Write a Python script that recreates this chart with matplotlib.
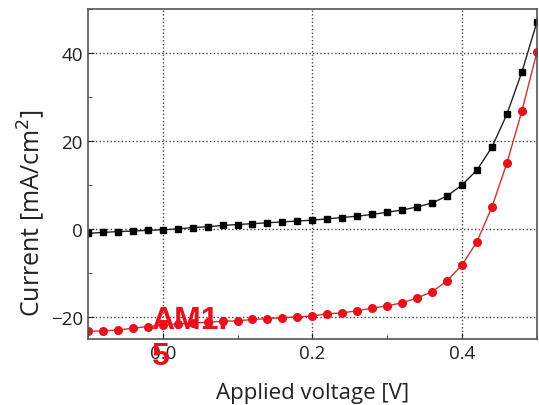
import matplotlib.pyplot as plt
from matplotlib.ticker import MultipleLocator

plt.rcParams['font.family'] = ['Open Sans', 'DejaVu Sans']

# Applied voltage [V], 0.02 V steps
voltage = [-0.10, -0.08, -0.06, -0.04, -0.02, 0.00, 0.02, 0.04, 0.06, 0.08,
           0.10, 0.12, 0.14, 0.16, 0.18, 0.20, 0.22, 0.24, 0.26, 0.28,
           0.30, 0.32, 0.34, 0.36, 0.38, 0.40, 0.42, 0.44, 0.46, 0.48, 0.50]

# dark current (black squares)
dark = [-1.0, -0.8, -0.6, -0.5, -0.3, -0.2, 0.0, 0.3, 0.5, 0.8,
        1.0, 1.2, 1.4, 1.6, 1.8, 2.0, 2.3, 2.6, 2.9, 3.3,
        3.8, 4.3, 5.0, 5.9, 7.5, 10.0, 13.4, 18.6, 26.1, 35.7, 47.0]

# illuminated current (red circles)
light = [-23.3, -23.2, -23.0, -22.6, -22.2, -21.9, -21.6, -21.4, -21.2, -21.0,
         -20.9, -20.6, -20.4, -20.2, -20.0, -19.8, -19.3, -19.1, -18.6, -18.0,
         -17.5, -16.8, -15.7, -14.3, -11.8, -8.2, -2.9, 5.0, 15.0, 26.8, 40.2]

fig = plt.figure(figsize=(5.39, 4.06), dpi=100)
ax = fig.add_axes([0.163, 0.163, 0.833, 0.812])

ax.plot(voltage, dark, color='#222222', linewidth=1, marker='s',
        markersize=5, markerfacecolor='black', markeredgecolor='black')
ax.plot(voltage, light, color='#cc3333', linewidth=1, marker='o',
        markersize=5.5, markerfacecolor='#e8101a', markeredgecolor='#e8101a')

ax.set_xlim(-0.1, 0.5)
ax.set_ylim(-25, 50)
ax.xaxis.set_major_locator(MultipleLocator(0.2))
ax.xaxis.set_minor_locator(MultipleLocator(0.1))
ax.yaxis.set_major_locator(MultipleLocator(20))
ax.yaxis.set_minor_locator(MultipleLocator(10))
ax.set_xticks([0.0, 0.2, 0.4])
ax.set_xticklabels(['0.0', '0.2', '0.4'])

ax.grid(True, which='major', linestyle=':', color='#444444', linewidth=1)
ax.tick_params(which='both', direction='in', labelsize=13.5, colors='#222222')
ax.tick_params(which='major', length=4)
ax.tick_params(which='minor', length=3)
for s in ax.spines.values():
    s.set_color('#555555')
    s.set_linewidth(1.2)

ax.set_xlabel('Applied voltage [V]', fontsize=16, color='#222222')
ax.xaxis.label.set_va('baseline')
ax.xaxis.set_label_coords(0.5, -0.18)
ax.set_ylabel('Current [mA/cm$^2$]', fontsize=18, color='#222222')
# label sits a bit below the axes centre in the original
ax.yaxis.set_label_coords(-0.09, 0.385)

ax.text(-0.016, -17.4, 'AM1.\n5', color='#e8101a', fontsize=23,
        fontweight='bold', family=['Liberation Sans', 'DejaVu Sans'],
        ha='left', va='top', linespacing=1.25, clip_on=False, zorder=5)

fig.savefig('out.png', dpi=100)
